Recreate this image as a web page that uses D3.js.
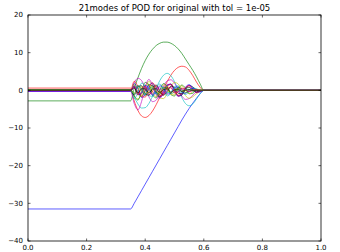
<!DOCTYPE html>
<html><head><meta charset="utf-8">
<script src="https://cdn.jsdelivr.net/npm/d3@7"></script>
<style>html,body{margin:0;padding:0;background:#fff;}svg{display:block;}</style>
</head><body><svg id="c" width="340" height="252"></svg>
<script>
const title = "21modes of POD for original with tol = 1e-05";
const xTicks = [0.0, 0.2, 0.4, 0.6, 0.8, 1.0];
const yTicks = [-40, -30, -20, -10, 0, 10, 20];
const colors = ["#0000ff","#008000","#ff0000","#00bfbf","#bf00bf","#bfbf00","#000000"];
const xs = [0, 0.35, 0.3625, 0.375, 0.3875, 0.4, 0.4125, 0.425, 0.4375, 0.45, 0.4625, 0.475, 0.4875, 0.5, 0.5125, 0.525, 0.5375, 0.55, 0.5625, 0.575, 0.5875, 0.6, 1.0];
const m0  = [-31.5,-31.5,-30,-28.3,-26.6,-24.9,-23.2,-21.5,-19.8,-18.1,-16.4,-14.7,-13,-11.3,-9.6,-7.9,-6.3,-4.8,-3.4,-2.1,-0.9,0,0];
const m1  = [-2.8,-2.8,0.5,3.3,5.8,7.9,9.6,10.9,11.9,12.5,12.8,12.8,12.5,11.9,11.0,9.8,8.3,6.8,5.3,3.6,1.7,0,0];
const m2  = [0.6,0.6,-2.8,-5.3,-6.8,-7.2,-6.7,-5.5,-3.8,-1.8,0.3,2.3,4.0,5.3,6.1,6.4,6.2,5.3,3.9,2.2,0.8,0,0];
const m3  = [0.1,0.1,-1.8,-3.6,-4.7,-4.6,-3.5,-1.6,0.6,2.6,4.0,4.5,3.9,2.3,0.2,-1.9,-3.5,-4.1,-3.6,-2.3,-0.9,0,0];
const m4  = [-0.2,-0.2,2.0,3.2,2.6,0.6,-1.7,-3.0,-2.6,-0.9,1.1,2.5,2.8,1.9,0.2,-1.5,-2.4,-2.2,-1.3,-0.4,0,0,0];
const m5  = [0.0,0.0,-1.5,-2.3,-1.0,1.2,2.3,1.6,-0.3,-2.0,-2.2,-0.8,1.0,2.1,1.7,0.2,-1.4,-2.1,-1.7,-0.9,-0.3,0,0];
const m6  = [0.0,0.0,1.2,-0.6,-1.6,-0.2,1.5,1.2,-0.8,-1.7,-0.4,1.4,1.6,0.0,-1.5,-1.3,0.3,1.3,0.9,0.1,-0.2,0,0];
const m7  = [-0.3,-0.3,1.8,0.4,-1.9,-1.2,1.3,1.9,-0.2,-1.8,-1.0,1.2,1.7,0.1,-1.5,-1.1,0.8,1.5,0.6,-0.6,-0.4,0,0];
const m8  = [0.2,0.2,-1.5,-2.6,-0.3,2.1,1.4,-1.2,-2.0,0.1,1.8,1.0,-1.1,-1.5,0.3,1.4,0.6,-0.9,-0.8,0.2,0.2,0,0];
const m9  = [0.1,0.1,2.4,1.0,-1.6,-1.8,0.6,2.0,0.6,-1.5,-1.2,0.8,1.6,0.2,-1.3,-0.9,0.7,1.2,0.2,-0.6,-0.2,0,0];
const m10 = [0.1,0.1,-2.2,-0.6,1.9,1.1,-1.4,-1.6,0.6,1.7,0.1,-1.5,-0.8,1.0,1.2,-0.3,-1.1,-0.4,0.6,0.4,-0.1,0,0];
const m11 = [-0.2,-0.2,-3.5,-5.2,-3.0,0.8,2.9,1.4,-1.2,-2.1,-0.4,1.6,1.5,-0.3,-1.6,-0.8,0.8,1.3,0.3,-0.5,-0.2,0,0];
const m12 = [0.0,0.0,1.6,-0.8,-1.6,0.9,1.7,-0.4,-1.7,-0.3,1.5,0.8,-1.1,-1.2,0.5,1.2,0.1,-0.9,-0.4,0.3,0.1,0,0];
const m13 = [0.0,0.0,-1.3,1.0,1.2,-0.9,-1.3,0.6,1.4,-0.2,-1.3,-0.3,1.1,0.7,-0.8,-0.9,0.4,0.8,0.0,-0.4,-0.1,0,0];
const m14 = [-0.1,-0.1,1.0,-1.2,-0.7,1.3,0.5,-1.3,-0.4,1.2,0.6,-1.0,-0.8,0.7,0.9,-0.4,-0.8,0.1,0.5,0.1,-0.1,0,0];
const m15 = [0.1,0.1,-0.9,1.3,0.2,-1.3,0.3,1.2,-0.5,-1.0,0.7,0.8,-0.8,-0.5,0.8,0.3,-0.6,-0.2,0.3,0.1,0,0,0];
const m16 = [0.0,0.0,0.8,-1.2,0.6,1.0,-1.1,-0.3,1.2,-0.3,-1.0,0.6,0.7,-0.7,-0.4,0.6,0.2,-0.4,0.0,0.2,0,0,0];
const m17 = [0.0,0.0,-1.0,0.9,0.4,-1.1,0.6,0.7,-1.0,0.1,0.9,-0.6,-0.5,0.7,0.1,-0.6,0.2,0.3,-0.2,0,0,0,0];
const m18 = [-0.1,-0.1,1.1,-0.5,-0.9,1.0,0.0,-1.0,0.6,0.6,-0.9,0.0,0.8,-0.4,-0.5,0.4,0.2,-0.3,0,0.1,0,0,0];
const m19 = [0.0,0.0,-0.8,0.2,0.9,-0.7,-0.4,0.9,-0.2,-0.7,0.6,0.3,-0.6,0.1,0.4,-0.3,-0.1,0.2,0,0,0,0,0];
const m20 = [0.0,0.0,0.6,-0.7,0.4,0.4,-0.7,0.3,0.4,-0.6,0.2,0.4,-0.5,0.1,0.3,-0.3,0,0.2,-0.1,0,0,0,0];
const modes = [m0,m1,m2,m3,m4,m5,m6,m7,m8,m9,m10,m11,m12,m13,m14,m15,m16,m17,m18,m19,m20];

const L = 28, R = 321, T = 15, B = 241;
const svg = d3.select("#c");
const x = d3.scaleLinear().domain([0, 1]).range([L, R]);
const y = d3.scaleLinear().domain([-40, 20]).range([B, T]);
const font = "DejaVu Sans, Bitstream Vera Sans, sans-serif";

const line = d3.line().x((d, i) => x(xs[i])).y(d => y(d)).curve(d3.curveMonotoneX);
svg.append("clipPath").attr("id", "pc").append("rect")
  .attr("x", L).attr("y", T).attr("width", R - L).attr("height", B - T);
const g = svg.append("g").attr("clip-path", "url(#pc)");
modes.forEach((m, k) => {
  g.append("path").attr("d", line(m)).attr("fill", "none")
    .attr("stroke", colors[k % 7]).attr("stroke-width", 0.75).attr("opacity", 0.85);
});

svg.append("rect").attr("x", L).attr("y", T).attr("width", R - L).attr("height", B - T)
  .attr("fill", "none").attr("stroke", "#000").attr("stroke-width", 0.8);

const tl = 2.5;
const ax = svg.append("g");
xTicks.forEach(t => {
  ax.append("line").attr("x1", x(t)).attr("x2", x(t)).attr("y1", B).attr("y2", B - tl).attr("stroke", "#000").attr("stroke-width", 0.6);
  ax.append("line").attr("x1", x(t)).attr("x2", x(t)).attr("y1", T).attr("y2", T + tl).attr("stroke", "#000").attr("stroke-width", 0.6);
  ax.append("text").attr("x", x(t)).attr("y", B + 8.5).attr("text-anchor", "middle")
    .attr("font-family", font).attr("font-size", 7).text(d3.format(".1f")(t));
});
yTicks.forEach(t => {
  ax.append("line").attr("x1", L).attr("x2", L + tl).attr("y1", y(t)).attr("y2", y(t)).attr("stroke", "#000").attr("stroke-width", 0.6);
  ax.append("line").attr("x1", R).attr("x2", R - tl).attr("y1", y(t)).attr("y2", y(t)).attr("stroke", "#000").attr("stroke-width", 0.6);
  ax.append("text").attr("x", L - 5).attr("y", y(t)).attr("dy", "0.35em").attr("text-anchor", "end")
    .attr("font-family", font).attr("font-size", 7).text(String(t).replace("-", "\u2212"));
});

svg.append("text").attr("x", (L + R) / 2).attr("y", 11).attr("text-anchor", "middle")
  .attr("font-family", font).attr("font-size", 8.5).text(title);
</script></body></html>
